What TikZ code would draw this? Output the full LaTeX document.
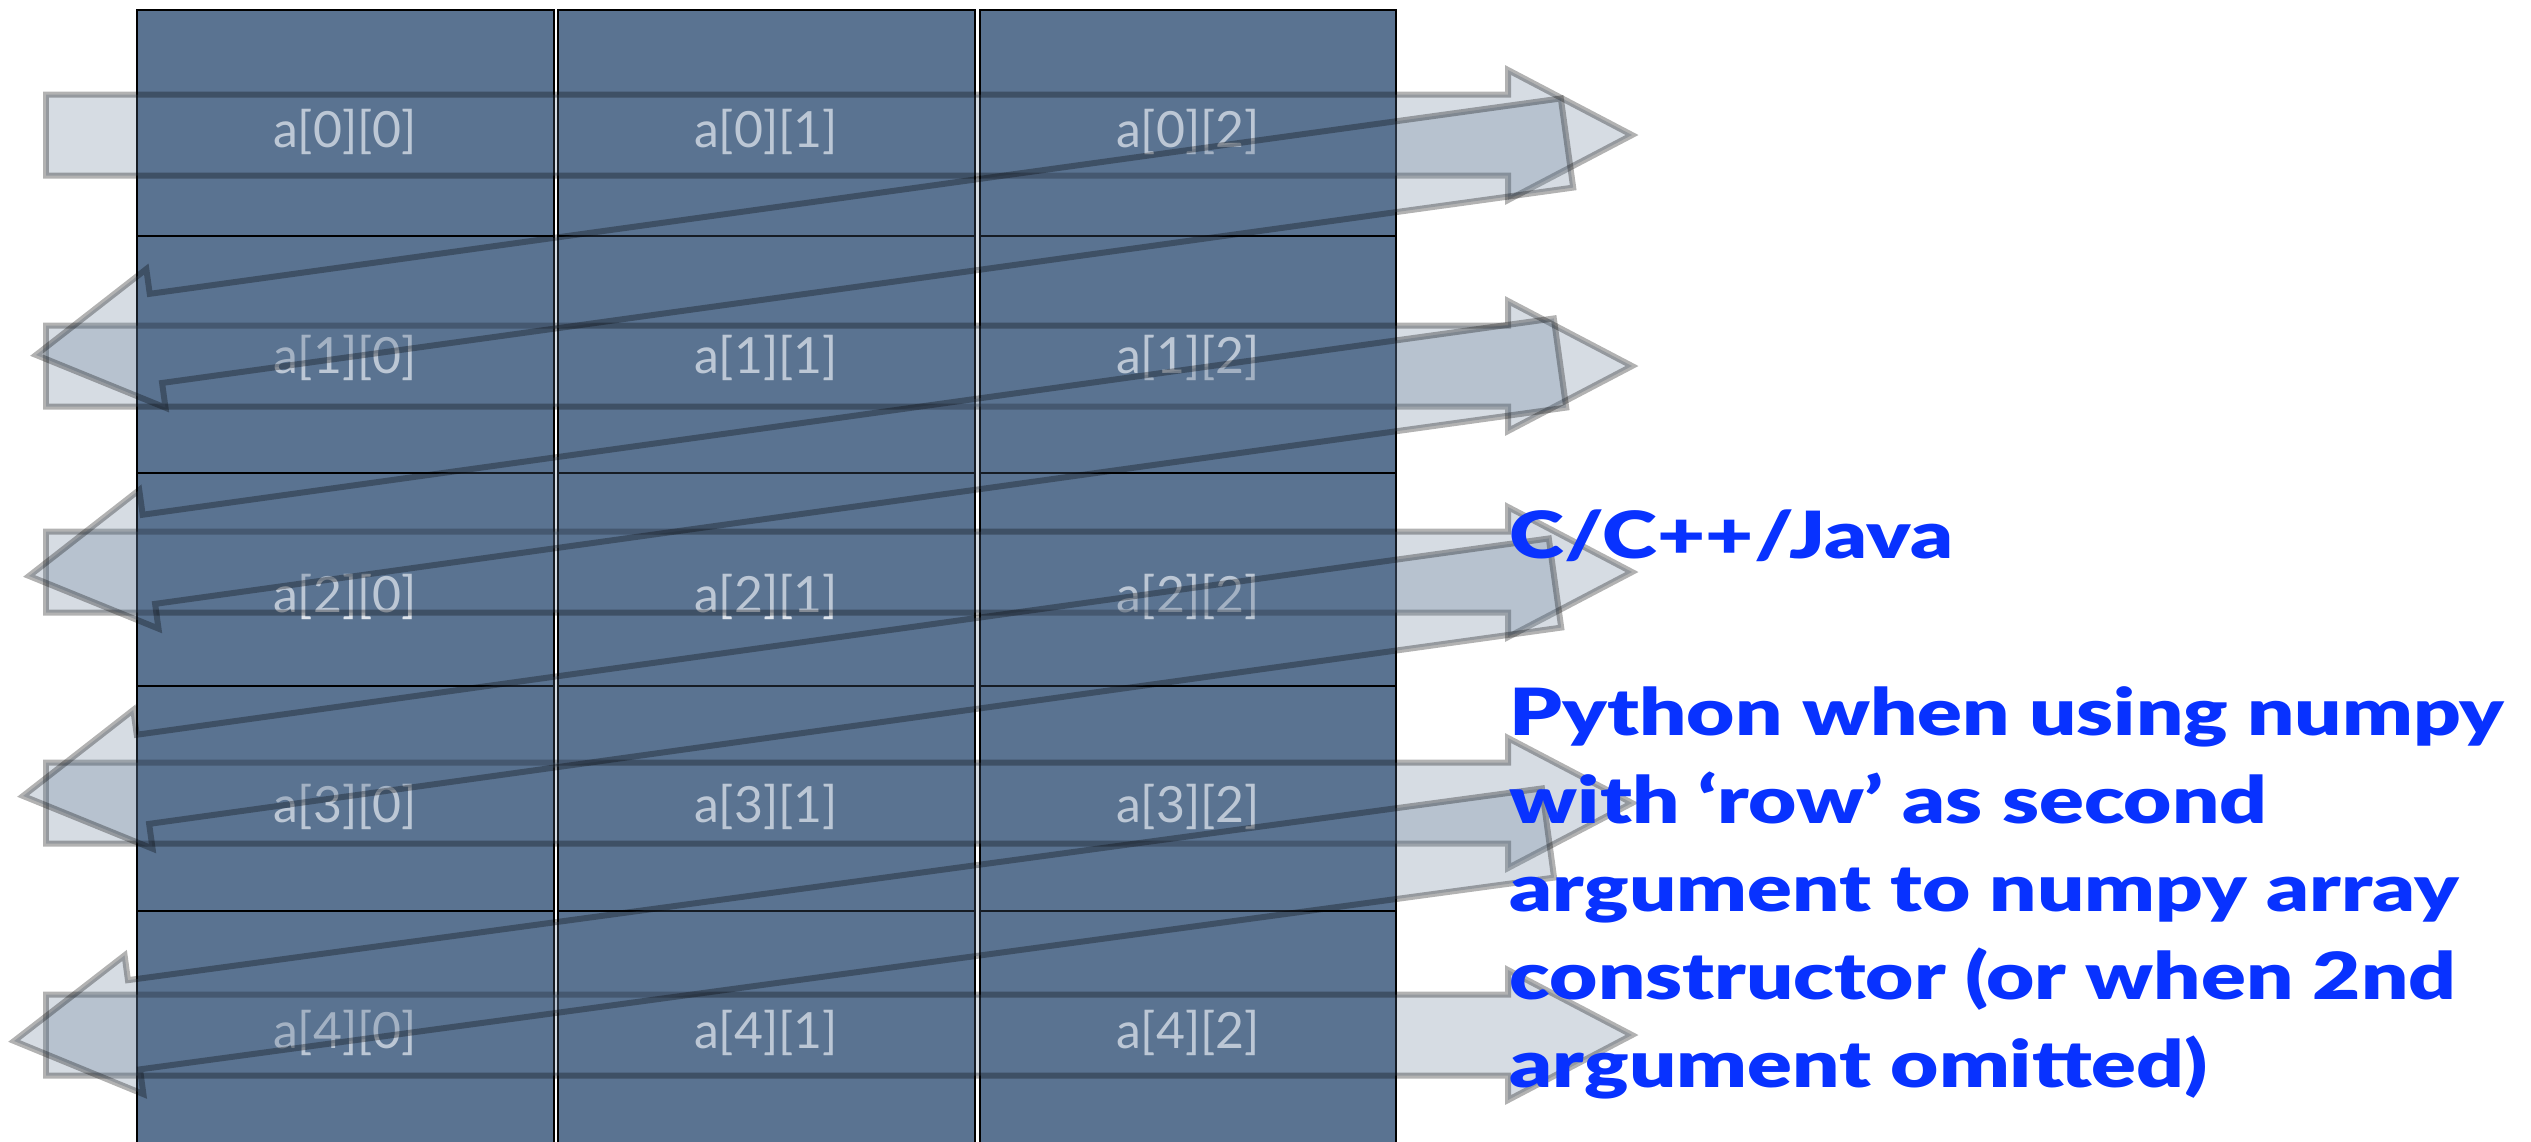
\documentclass[tikz,border=0pt]{standalone}
\usepackage{fontspec}
\setsansfont{Lato}
\newfontfamily\notefont[FakeStretch=1.28]{Lato Black}
\definecolor{cellblue}{RGB}{90,115,145}
\definecolor{labelgray}{RGB}{222,228,236}
\definecolor{noteblue}{RGB}{8,50,255}
\tikzset{
  cellbox/.style={draw=black, line width=0.7pt, fill=cellblue},
  fatarrow/.style={fill=cellblue, fill opacity=0.25, draw=black, draw opacity=0.3, line width=1.7pt, line join=miter},
  celllabel/.style={text=labelgray, font=\sffamily\fontsize{14.2}{17}\selectfont, inner sep=0pt},
  note/.style={text=noteblue, font=\notefont\fontsize{18.5}{25}\selectfont, inner sep=0pt, align=left, anchor=base west}
}
\begin{document}
\begin{tikzpicture}[x=0.01cm, y=-0.01cm]
  \useasboundingbox (0,0) rectangle (2531,1141);
  \def\shaft{40.5}   % half width of row arrow shaft
  \def\head{65}      % half width of row arrow head
  \def\headlen{124}
  % the 5x3 cells
  \foreach \C/\L/\R in {0/137/554, 1/558/975, 2/980/1396}
    {
    \foreach \T/\B in {10/236, 236/473, 473/686, 686/911, 911/1145}
      \draw[cellbox] (\L,\T) rectangle (\R,\B);
    }
  \foreach \r/\Y in {0/132, 1/358, 2/597, 3/807, 4/1033}
    \foreach \c/\X in {0/345, 1/766, 2/1188}
      \node[celllabel] (a\r\c) at (\X,\Y) {a[\r][\c]};
  %
  % one arrow along every row
  \foreach \Y in {135, 366, 572, 803, 1035}
    \filldraw[fatarrow] (46,\Y-\shaft) -- (1632-\headlen,\Y-\shaft) -- (1632-\headlen,\Y-\head) -- (1632,\Y) -- (1632-\headlen,\Y+\head) -- (1632-\headlen,\Y+\shaft) -- (46,\Y+\shaft) -- cycle;
  %
  % back to the start of the next row
  \foreach \Sx/\Sy/\Ex/\Ey in {1567/143/36/355, 1560/363/29/576, 1555/583/23/796, 1548/833/14/1041}
    {
    \pgfmathsetmacro\len{100*veclen((\Ex-\Sx)/100,(\Ey-\Sy)/100)}
    \pgfmathsetmacro\ang{atan2(\Sy-\Ey,\Ex-\Sx)}
    \begin{scope}[shift={(\Sx,\Sy)}, rotate=\ang]
      \filldraw[fatarrow] (0,-45) -- (\len-121,-45) -- (\len-121,-70) -- (\len,0) -- (\len-121,70) -- (\len-121,45) -- (0,45) -- cycle;
    \end{scope}
    }
  %
  \node[note] (langs) at (1509,558) {C/C++/Java};
  % base anchor sits on the last line here
  \node[note] (python) at (1509,1087) {Python when using numpy\\with ‘row’ as second\\argument to numpy array\\constructor (or when 2nd\\argument omitted)};
\end{tikzpicture}
\end{document}
